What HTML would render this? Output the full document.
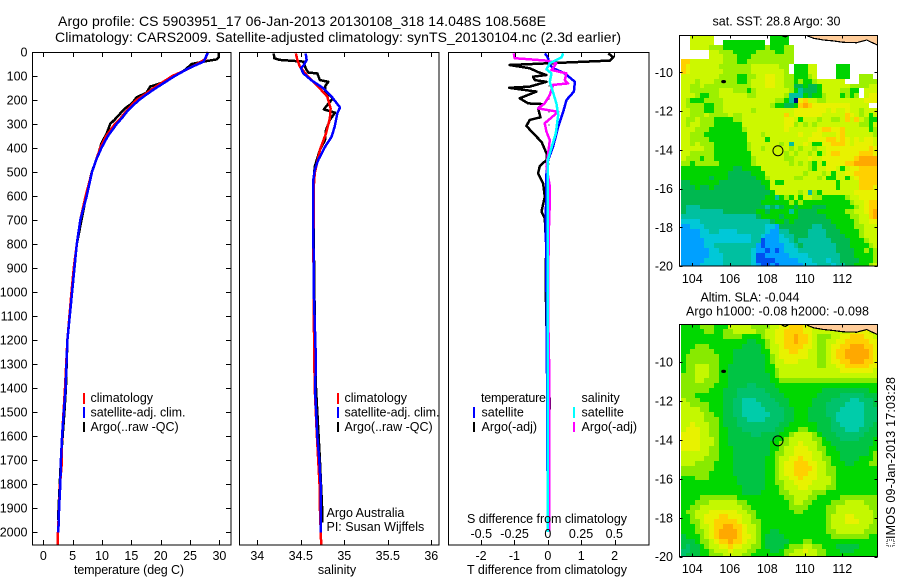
<!DOCTYPE html>
<html lang="en">
<head>
<meta charset="utf-8">
<title>Argo profile</title>
<style>
html,body{margin:0;padding:0;background:#fff;}
svg{display:block;}
text{font-family:"Liberation Sans",Arial,sans-serif;font-size:12.5px;fill:#000;}
.title{font-size:14px;}
</style>
</head>
<body>
<svg id="chart" xmlns="http://www.w3.org/2000/svg" width="900" height="580" viewBox="0 0 900 580">
<rect x="0" y="0" width="900" height="580" fill="#fff"/>
<defs>
<clipPath id="clip1"><rect x="680" y="36" width="197" height="230"/></clipPath>
<clipPath id="clip2"><rect x="680" y="325" width="197" height="232"/></clipPath>
</defs>
<text class="title" x="58" y="26" textLength="488" lengthAdjust="spacing">Argo profile: CS 5903951_17 06-Jan-2013 20130108_318 14.048S 108.568E</text>
<text class="title" x="55" y="42" textLength="566" lengthAdjust="spacing">Climatology: CARS2009. Satellite-adjusted climatology: synTS_20130104.nc (2.3d earlier)</text>

<g id="panelT"></g>
<g id="panelS"></g>
<g id="panelD"></g>
<g id="map1"></g>
<g id="map2"></g>

<text x="129" y="574" text-anchor="middle" textLength="110" lengthAdjust="spacing">temperature (deg C)</text>
<text x="337" y="574" text-anchor="middle">salinity</text>
<text x="547" y="574" text-anchor="middle" textLength="160" lengthAdjust="spacing">T difference from climatology</text>
<text x="547" y="523" text-anchor="middle" textLength="160" lengthAdjust="spacing">S difference from climatology</text>

<g>
<rect x="83" y="393" width="2" height="11" fill="#f00"/>
<text x="90.5" y="402">climatology</text>
<rect x="83" y="407" width="2" height="11" fill="#00f"/>
<text x="90.5" y="416.5" textLength="95" lengthAdjust="spacing">satellite-adj. clim.</text>
<rect x="83" y="422" width="2" height="10" fill="#000"/>
<text x="90.5" y="431">Argo(..raw -QC)</text>
</g>
<g>
<rect x="337" y="393" width="2" height="11" fill="#f00"/>
<text x="344.5" y="402">climatology</text>
<rect x="337" y="407" width="2" height="11" fill="#00f"/>
<text x="344.5" y="416.5" textLength="95" lengthAdjust="spacing">satellite-adj. clim.</text>
<rect x="337" y="422" width="2" height="10" fill="#000"/>
<text x="344.5" y="431">Argo(..raw -QC)</text>
<text x="326.5" y="517">Argo Australia</text>
<text x="326.5" y="531">PI: Susan Wijffels</text>
</g>
<g>
<text x="481" y="402" textLength="65" lengthAdjust="spacing">temperature</text>
<rect x="473" y="407" width="2" height="11" fill="#00f"/>
<text x="481.5" y="416.5">satellite</text>
<rect x="473" y="422" width="2" height="10" fill="#000"/>
<text x="481.5" y="431">Argo(-adj)</text>
<text x="581.5" y="402">salinity</text>
<rect x="573" y="407" width="2" height="11" fill="#0ff"/>
<text x="581.5" y="416.5">satellite</text>
<rect x="573" y="422" width="2" height="10" fill="#f0f"/>
<text x="581.5" y="431">Argo(-adj)</text>
</g>

<text x="776.5" y="25.5" text-anchor="middle" textLength="128" lengthAdjust="spacing">sat. SST: 28.8 Argo: 30</text>
<text x="750" y="301.5" text-anchor="middle" textLength="99" lengthAdjust="spacing">Altim. SLA: -0.044</text>
<text x="777.5" y="315.5" text-anchor="middle" textLength="183" lengthAdjust="spacing">Argo h1000: -0.08 h2000: -0.098</text>
<rect x="887" y="540" width="7" height="6" fill="none" stroke="#000" stroke-width="1" stroke-dasharray="1 1" shape-rendering="crispEdges"/>
<text transform="translate(895,539) rotate(-90)" textLength="162" lengthAdjust="spacing">IMOS 09-Jan-2013 17:03:28</text>

<script>
// ---- profile data ----
const depthTicks = [0,100,200,300,400,500,600,700,800,900,1000,1100,1200,1300,1400,1500,1600,1700,1800,1900,2000];
const tempTicks = [0,5,10,15,20,25,30];
const salTicks = [34,34.5,35,35.5,36];
const salTickLabels = ['34','34.5','35','35.5','36'];
const tDiffTicks = [-2,-1,0,1,2];
const sDiffTicks = [-0.5,-0.25,0,0.25,0.5];
const sDiffTickLabels = ['-0.5','-0.25','0','0.25','0.5'];

const tempClimDepth = [0,30,50,75,100,125,150,175,200,225,250,275,300,350,400,450,500,600,700,800,900,1000,1200,1400,1600,1730,1800,1900,2000,2054];
const tempClim = [28.0,27.6,26.2,24.3,22.0,20.4,18.8,17.4,15.9,14.9,14.0,13.2,12.2,10.7,9.7,9.0,8.3,7.2,6.3,5.7,5.2,4.8,4.1,3.7,3.2,3.1,2.85,2.7,2.5,2.45];
const tempSatDepth = [0,40,70,100,125,150,175,200,225,250,275,300,350,400,450,500,600,700,800,900,1000,1200,1400,1500,1600,1700,1800,1900,2003];
const tempSat = [28.1,27.3,24.6,22.4,20.8,19.2,17.7,16.3,15.2,14.2,13.4,12.5,11.0,9.9,9.0,8.3,7.4,6.3,5.7,5.3,4.9,4.1,3.8,3.5,3.2,3.0,2.9,2.7,2.55];
const tempArgoDepth = [3,22,31,40,50,75,103,124,131,144,169,189,214,235,281,300,339,381,422,506,600,800,1000,1200,1400,1500,1700,1900,1950];
const tempArgo = [29.9,29.9,29.5,27.3,25.3,24.1,22.2,20.7,19.9,18.2,17.6,15.9,15.1,13.9,12.2,11.4,10.8,9.9,9.4,8.2,7.3,5.7,4.9,4.1,3.85,3.6,3.0,2.6,2.5];

const salClimDepth = [6,33,61,96,144,186,235,276,339,408,506,561,800,1100,1400,1600,1700,1800,1900,2054];
const salClim = [34.444,34.46,34.49,34.567,34.70,34.805,34.843,34.835,34.79,34.72,34.66,34.65,34.645,34.65,34.66,34.685,34.70,34.715,34.72,34.735];
const salSatDepth = [6,33,54,68,89,117,151,186,231,256,311,353,394,450,492,533,693,1000,1300,1400,1600,1700,1800,1900,2003];
const salSat = [34.556,34.567,34.536,34.502,34.53,34.62,34.76,34.854,34.95,34.92,34.89,34.854,34.78,34.70,34.66,34.644,34.644,34.65,34.675,34.663,34.69,34.713,34.728,34.73,34.732];
const salArgoDepth = [6,26,33,40,68,86,89,117,124,142,165,193,221,239,253,283,325,367,408,478,533,800,1100,1400,1500,1700,1900,1960];
const salArgo = [34.19,34.195,34.253,34.53,34.556,34.586,34.69,34.72,34.816,34.78,34.78,34.87,34.805,34.766,34.893,34.835,34.79,34.778,34.72,34.66,34.65,34.65,34.66,34.675,34.69,34.72,34.745,34.745];

const diffTDepthArgo = [6,22,36,54,68,85,96,103,117,124,144,149,165,193,214,217,235,272,283,308,346,374,422,450,475,506,547,603,665,693,800,1000,1200,1300,1440,1490];
const diffTArgo = [1.81,1.96,1.86,-1.14,-0.54,-0.27,-0.04,-0.44,-0.39,-0.04,-0.54,-1.16,-0.34,-0.84,-0.59,-0.14,-0.29,-0.22,-0.54,-0.64,-0.39,-0.19,-0.04,-0.04,-0.24,-0.29,-0.14,-0.09,-0.19,-0.09,-0.05,-0.06,-0.03,0.0,0.05,0.05];
const diffTDepthSat = [6,22,54,70,89,124,165,200,249,311,394,450,506,700,1000,1400,2000];
const diffTSat = [-0.09,0.0,0.06,0.2,0.51,0.81,0.78,0.56,0.46,0.31,0.16,0.01,-0.04,-0.06,-0.04,-0.02,0.0];
const diffSDepthArgo = [6,26,36,47,75,89,117,131,137,179,214,235,249,297,332,367,478,561,631,700,900,1100,1300,1400,1500,1700,1900,2000];
const diffSArgo = [-0.256,-0.249,-0.01,0.065,0.028,0.14,0.128,0.153,0.04,0.015,-0.023,-0.073,0.078,-0.023,-0.01,0.015,-0.01,0.015,0.015,0.01,0.004,0.003,0.01,0.012,0.012,0.011,0.012,0.012];
const diffSDepthSat = [6,22,47,72,89,124,214,262,339,450,700,1200,2000];
const diffSSat = [0.116,0.103,0.015,-0.01,0.028,0.015,0.065,0.078,0.06,0.0,0.0,0.0,0.0];

// ---- map data: colour level per 0.25 degree cell (0 = no data) ----
const sstLevels = ['#ffffff','#000080','#0050f0','#00a0ff','#00c8d8','#00c0a0','#00b850','#00d400','#9cf000','#ccf800','#e8f200','#ffd000','#ffa800'];
const slaLevels = ['#ffffff','#000080','#0050f0','#00a0ff','#00ccaa','#00c26c','#00c444','#00d800','#88ea00','#c4f800','#e8f200','#ffd000','#ffa800'];
const lonTicks = [104,106,108,110,112];
const latTicks = [-10,-12,-14,-16,-18,-20];
const coastLon = [110.1,110.45,110.99,111.52,112.05,112.76,113.3,113.56,113.87];
const coastLat = [-8.1,-8.24,-8.33,-8.38,-8.45,-8.47,-8.33,-8.45,-8.59];
const islet1Lon = [108.76,108.95,109.12];
const islet1Lat = [-8.1,-8.17,-8.1];
const argoLon = 108.568;
const argoLat = -14.048;
const islandLon = 105.67;
const islandLat = -10.48;

const sstGrid = [
[0,0,9,9,9,9,9,0,0,0,0,0,0,0,0,0,0,0,0,7,7,7,7,0,0,0,0,0,0,0,0,0,0,0,0,0,0,0,0,0,0,0],
[0,0,9,9,9,9,9,0,0,7,7,7,7,7,7,7,7,7,0,7,7,7,7,0,0,0,0,0,0,0,0,0,0,0,0,0,0,0,0,0,0,0],
[0,0,9,9,9,9,8,8,8,7,7,7,7,7,7,7,7,7,8,7,7,7,8,8,0,0,0,0,0,0,0,0,0,0,0,0,0,0,0,0,0,0],
[0,0,0,0,0,0,9,9,8,8,8,7,7,7,7,7,8,8,8,8,7,7,8,8,0,0,0,0,0,0,0,0,0,0,0,0,0,0,0,0,0,0],
[0,0,0,0,0,0,9,9,9,8,8,8,7,7,7,8,8,8,8,8,8,8,8,8,0,0,0,0,0,0,0,0,0,0,0,0,0,0,0,0,0,0],
[11,11,9,9,9,9,9,9,9,8,8,8,7,7,8,8,8,8,8,8,8,8,8,8,0,0,0,0,0,0,0,0,0,0,0,0,0,0,0,0,0,0],
[11,10,9,9,9,9,9,9,8,8,8,8,8,8,8,9,9,9,9,9,9,8,8,0,7,7,7,9,9,0,0,0,0,7,7,7,0,0,0,0,0,0],
[11,10,9,9,9,9,9,9,9,8,8,8,8,8,8,9,9,9,9,9,9,9,8,0,7,7,7,9,9,0,0,0,0,7,7,7,0,0,0,0,0,0],
[9,9,9,9,9,9,9,9,8,8,8,8,7,7,8,8,9,9,10,10,9,9,8,8,7,7,7,8,9,0,0,0,0,7,7,7,0,0,8,8,8,0],
[9,9,9,8,9,9,9,8,8,8,8,8,7,7,8,9,9,9,10,10,9,9,8,8,7,8,7,7,8,9,9,9,9,9,9,0,0,0,8,8,8,8],
[9,9,8,8,9,8,8,8,8,8,8,8,8,8,8,9,9,9,10,10,9,9,8,8,6,6,7,6,6,7,9,9,9,9,9,9,8,8,8,8,9,9],
[9,9,8,8,8,8,8,8,9,9,9,8,8,8,7,8,9,9,9,9,9,9,9,8,7,5,6,6,6,7,9,9,9,9,8,8,7,7,0,9,9,9],
[9,9,9,8,7,7,8,8,9,9,9,9,9,9,8,8,9,9,9,9,9,9,8,5,5,5,7,6,7,7,8,9,9,9,7,8,7,8,0,9,10,10],
[9,8,7,7,7,8,8,8,8,9,9,9,9,9,9,9,9,9,9,9,8,8,7,5,1,10,11,9,9,8,8,9,9,9,9,9,9,9,9,10,10,10],
[9,8,8,8,8,7,7,8,8,9,9,9,9,9,9,9,9,9,9,8,7,7,6,6,7,11,12,11,10,10,10,10,10,10,10,10,9,9,9,9,0,0],
[9,9,8,8,8,7,7,8,8,9,9,9,9,9,9,8,9,9,9,9,9,9,9,9,10,10,10,10,10,10,10,9,10,9,9,10,9,9,8,9,9,9],
[9,9,8,8,8,9,8,8,8,8,9,8,8,9,9,9,9,9,9,9,9,9,11,9,10,10,10,10,10,10,9,9,9,9,9,11,10,9,8,9,7,9],
[9,8,8,9,8,8,8,7,7,7,7,8,8,9,9,9,9,9,9,9,9,9,10,10,9,7,9,9,9,8,9,9,8,8,9,11,9,11,9,8,7,7],
[9,8,9,9,8,8,8,7,7,7,7,7,7,9,9,9,9,9,9,9,9,9,10,10,8,9,8,9,8,9,9,9,9,9,9,9,9,9,8,8,7,9],
[9,9,9,8,8,8,7,7,7,7,7,7,7,8,9,9,9,9,9,9,9,9,10,9,9,9,9,9,9,10,11,11,10,10,11,9,9,9,9,9,7,8],
[9,9,8,8,8,7,7,7,7,7,7,7,7,7,9,9,9,8,9,9,9,9,9,9,9,10,9,9,10,10,9,9,9,10,11,9,9,9,9,9,9,8],
[9,9,8,8,8,8,7,7,7,7,7,7,7,7,9,9,9,9,7,9,9,9,9,9,9,9,9,10,10,10,10,11,11,10,11,10,9,10,9,10,10,9],
[9,9,8,9,8,8,8,7,7,7,7,7,7,7,8,9,9,9,9,9,9,8,9,5,9,9,10,9,7,7,10,10,11,11,11,10,9,10,10,10,10,9],
[9,9,9,9,9,8,8,7,7,7,7,7,7,7,8,9,9,8,9,9,9,9,9,8,9,8,9,9,8,9,9,10,10,10,10,10,10,10,10,10,11,10],
[9,9,8,8,8,8,8,7,7,7,7,7,7,7,7,9,9,9,9,9,9,9,8,9,8,9,9,8,9,7,9,10,11,11,10,10,10,10,11,11,11,10],
[9,8,8,8,7,8,8,7,7,7,7,7,7,7,7,8,9,9,9,9,9,9,8,8,9,9,9,10,9,9,10,10,10,10,10,10,10,11,12,12,12,12],
[8,8,7,8,8,8,8,8,7,7,7,7,7,7,7,8,9,9,9,9,9,9,9,8,9,8,9,8,7,9,7,10,10,10,10,11,11,12,12,12,12,12],
[7,7,7,7,7,7,7,7,7,7,7,6,6,7,7,7,7,9,9,9,9,9,9,9,9,9,9,8,7,9,9,10,10,9,7,9,10,10,11,11,11,11],
[7,7,7,7,7,7,7,7,7,7,6,6,6,6,6,7,7,7,9,9,9,9,9,9,9,9,8,9,9,9,8,9,7,9,9,10,10,11,11,11,11,11],
[7,7,7,7,7,7,6,7,7,7,6,6,6,6,6,6,7,7,8,9,9,9,9,9,8,8,9,9,9,8,9,7,7,9,9,7,9,10,11,11,11,11],
[6,6,7,7,7,7,7,7,6,6,6,6,6,6,6,6,6,7,7,9,7,7,9,9,9,9,9,9,9,9,9,9,9,7,9,9,9,9,11,11,11,11],
[6,6,6,7,6,6,7,6,6,6,6,6,6,6,6,6,6,6,7,9,9,9,9,9,9,9,9,9,9,9,9,9,9,7,9,9,9,9,11,11,11,10],
[6,6,6,6,6,6,6,6,6,6,6,6,6,6,6,6,6,6,6,7,9,9,9,9,9,8,9,5,8,7,9,9,9,9,9,9,9,10,10,10,10,10],
[6,6,6,6,6,6,6,6,6,6,6,6,6,6,6,6,6,6,7,7,5,7,8,7,9,7,9,9,8,8,7,7,7,7,7,8,9,9,10,10,10,10],
[6,6,6,6,6,6,6,6,6,6,6,6,6,6,6,6,6,7,7,7,7,7,7,8,7,8,7,7,7,7,7,7,7,7,7,7,8,9,9,10,11,11],
[6,5,5,5,6,6,6,6,6,6,6,6,6,6,6,6,6,6,5,6,5,6,7,7,6,7,7,7,6,6,6,7,7,7,7,7,7,8,9,10,11,11],
[6,5,5,5,5,5,5,5,5,6,6,6,6,6,6,6,7,7,6,7,7,7,7,5,7,6,6,6,6,7,7,7,7,7,7,8,8,9,9,10,11,12],
[5,5,5,5,5,5,5,5,5,5,5,5,5,5,5,5,6,7,7,7,7,6,7,7,7,6,6,6,6,6,6,7,7,7,7,7,8,8,9,9,11,12],
[4,4,4,4,5,5,5,5,5,5,5,5,5,5,5,5,5,5,5,6,7,7,6,7,6,6,6,6,6,6,6,6,7,7,7,7,7,8,9,9,10,10],
[3,3,4,4,4,5,5,5,5,5,5,5,5,5,5,5,5,5,4,4,3,6,6,6,6,6,6,6,5,5,6,6,6,7,7,7,7,8,8,9,9,9],
[3,3,3,3,4,4,5,5,4,4,4,4,5,5,5,5,5,5,4,3,3,5,5,6,6,6,6,5,5,5,5,6,6,6,7,7,7,7,8,9,9,9],
[3,3,3,3,4,4,4,4,4,4,4,4,4,4,4,5,5,4,3,3,3,4,5,5,6,6,6,5,5,5,5,6,6,6,6,7,7,7,8,9,9,9],
[3,3,3,3,3,4,4,4,4,4,4,4,4,4,4,5,5,2,3,3,3,4,4,5,6,5,5,5,5,5,5,5,6,6,6,6,7,7,7,8,9,9],
[3,3,3,3,3,4,4,5,5,5,5,5,5,5,5,5,3,2,3,3,3,3,4,4,5,6,5,5,5,5,5,5,5,6,6,6,7,7,7,7,8,9],
[3,3,3,3,3,3,4,4,5,5,5,5,5,5,5,4,3,3,2,3,2,3,4,4,4,5,5,5,5,5,5,5,5,6,6,6,6,7,7,8,7,8],
[3,3,3,3,3,3,4,4,4,5,5,5,5,5,5,4,2,2,3,3,3,3,3,4,4,4,4,5,5,5,5,5,5,5,6,6,6,7,7,7,7,8],
[3,3,3,3,3,4,4,4,4,5,5,5,5,5,5,4,2,2,2,2,3,3,3,3,3,4,4,4,5,5,5,4,5,5,6,6,6,6,7,7,7,8],
[3,3,3,3,4,4,4,4,4,5,5,5,5,5,5,4,3,2,2,3,2,3,3,3,3,3,4,4,4,5,5,5,4,5,5,6,6,7,7,7,8,9]
];

const slaGrid = [
[7,7,7,7,8,8,8,7,7,7,9,9,9,9,9,8,8,8,8,9,9,10,10,11,11,11,10,10,9,9,9,9,9,9,9,9,9,9,9,9,9,9],
[7,7,7,7,7,8,8,7,7,8,8,9,9,9,9,9,8,8,9,9,10,10,11,11,11,11,10,10,9,9,9,9,9,9,9,9,10,10,10,10,9,9],
[7,7,7,7,7,7,7,7,7,8,8,8,8,7,7,7,7,8,9,9,10,10,11,11,12,11,11,10,9,8,8,8,9,9,10,10,11,11,11,10,10,9],
[7,7,7,7,7,7,7,7,7,7,7,7,7,7,6,6,7,7,8,9,10,10,11,11,12,11,11,10,9,8,8,9,9,10,10,11,11,11,11,11,10,10],
[7,7,7,8,8,8,7,7,7,7,7,7,7,6,6,6,6,7,8,9,9,10,11,11,11,11,10,10,9,8,8,9,10,10,11,11,12,12,12,11,11,10],
[7,7,8,8,8,8,8,7,7,7,7,6,6,6,6,6,6,7,7,9,9,10,10,11,11,10,10,9,9,8,8,9,10,11,11,12,12,12,12,12,11,10],
[7,8,8,8,8,8,8,8,7,7,7,6,6,6,6,6,6,6,7,8,9,10,10,10,10,10,10,9,9,8,8,9,10,11,11,12,12,12,12,12,11,10],
[7,8,8,8,8,8,8,8,7,7,7,6,6,6,6,6,6,6,7,8,9,9,10,10,10,9,9,9,9,8,8,9,10,10,11,11,12,12,12,11,11,10],
[7,8,8,9,9,9,8,8,7,7,6,6,6,6,6,6,6,6,7,7,9,9,9,9,9,9,9,9,9,8,8,9,9,10,10,11,11,11,11,11,10,10],
[7,8,8,9,9,9,8,8,7,7,6,6,6,6,6,6,6,6,7,7,8,9,9,9,9,9,9,9,9,9,9,9,9,9,10,10,10,10,10,10,10,9],
[8,8,8,9,9,9,8,8,7,7,6,6,6,6,6,6,6,6,6,7,8,9,9,9,9,9,9,9,9,9,9,9,9,9,9,9,9,9,9,9,9,9],
[8,8,8,9,9,8,8,8,7,7,6,6,6,6,6,6,6,6,6,7,7,8,8,8,8,8,8,8,8,8,8,8,8,8,8,8,8,8,8,8,8,8],
[8,8,8,8,8,8,8,7,7,7,6,6,6,6,5,5,6,6,6,6,7,7,7,7,7,7,7,7,7,7,7,7,7,7,7,7,7,7,7,7,7,7],
[8,8,8,8,8,8,7,7,7,6,6,6,5,5,5,5,5,5,6,6,6,7,7,7,7,7,7,7,7,7,6,6,6,6,6,6,6,6,6,6,7,7],
[8,8,8,7,7,7,7,7,7,6,6,6,5,5,5,5,5,5,5,6,6,6,7,7,7,7,7,7,7,6,6,6,6,6,5,5,5,5,5,6,6,6],
[9,8,8,8,7,7,7,7,7,6,6,5,5,4,4,4,5,5,5,5,6,6,6,7,7,7,7,7,6,6,6,6,5,5,5,5,4,4,5,5,5,6],
[9,9,8,8,8,8,7,7,7,6,6,5,5,4,4,4,4,5,5,5,5,6,6,7,7,7,7,7,6,6,6,5,5,5,5,4,4,4,4,5,5,6],
[9,9,9,9,8,8,7,7,7,6,6,5,5,4,4,4,4,4,5,5,5,5,6,6,7,7,7,6,6,6,6,5,5,5,4,4,4,4,4,5,5,5],
[9,9,9,9,9,8,8,7,7,6,6,5,5,4,4,4,4,4,4,5,5,5,6,6,7,7,7,6,6,6,6,5,5,4,4,4,4,4,4,5,5,5],
[9,9,9,9,9,8,8,8,7,6,6,6,5,5,4,4,4,4,5,5,5,5,6,6,7,7,7,6,6,6,6,6,5,4,4,4,4,4,4,5,5,5],
[9,9,10,9,9,9,8,8,7,6,6,6,5,5,5,5,5,5,5,5,5,6,6,7,7,7,7,7,7,6,6,6,5,5,4,4,4,4,4,5,5,6],
[9,10,10,10,9,9,8,8,7,7,6,6,6,5,5,5,5,5,5,5,6,6,7,7,7,8,8,7,7,6,6,6,5,5,5,4,4,4,5,5,6,6],
[10,10,10,10,9,9,8,8,7,7,6,6,6,6,6,5,5,6,6,6,6,7,7,8,9,9,9,9,8,7,6,6,6,5,5,5,5,5,5,6,6,6],
[10,10,10,10,9,9,9,8,7,7,6,6,6,6,6,6,6,6,6,6,7,7,8,9,9,9,9,9,8,8,7,6,6,6,5,5,5,5,6,6,6,7],
[10,10,10,10,9,9,9,8,7,7,6,6,6,6,6,6,6,6,6,7,7,8,8,9,9,10,9,9,9,8,7,7,6,6,6,6,6,6,6,6,6,7],
[10,10,10,10,9,9,8,8,7,7,7,6,6,6,6,6,6,6,6,7,7,8,9,9,10,10,10,9,9,8,8,7,7,6,6,6,6,6,6,6,7,7],
[9,9,9,9,9,9,8,8,7,7,7,6,6,6,6,6,6,6,6,7,8,8,9,9,10,10,10,10,9,9,8,7,7,7,6,6,6,6,6,6,7,8],
[9,9,9,9,9,8,8,8,7,7,7,6,6,6,6,6,6,6,7,7,8,9,9,10,10,11,10,10,9,9,8,8,7,7,6,6,6,6,7,7,7,8],
[9,9,9,8,8,8,8,7,7,7,7,6,6,6,6,6,6,6,7,7,8,9,10,10,11,11,11,10,10,9,9,8,7,7,7,6,6,7,7,7,8,8],
[8,8,8,8,8,8,8,7,7,7,7,6,6,6,6,6,6,6,7,7,8,9,10,10,11,11,11,11,10,9,9,8,8,7,7,7,7,7,7,7,7,7],
[8,8,8,8,8,8,7,7,7,7,7,6,6,6,6,6,6,6,7,7,8,9,10,10,11,11,11,10,10,9,9,8,8,7,7,7,7,7,7,7,7,7],
[7,7,7,8,8,8,7,7,7,7,7,7,6,6,6,6,6,6,7,7,8,9,9,10,10,11,10,10,10,9,9,9,8,7,7,7,7,7,7,7,7,7],
[7,7,7,7,7,7,7,7,7,7,7,7,6,6,6,6,6,6,7,7,8,8,9,9,10,10,10,10,9,9,9,9,8,7,7,7,7,7,7,7,7,7],
[7,7,7,7,7,7,7,7,7,7,7,7,7,6,6,6,6,6,7,7,7,8,9,9,9,10,10,9,9,9,9,8,8,7,7,7,7,7,7,7,7,7],
[7,7,7,7,7,7,7,7,7,7,7,7,7,6,6,6,6,7,7,7,7,8,8,9,9,9,9,9,8,8,8,7,7,7,7,7,7,7,7,7,7,7],
[7,7,7,7,8,8,8,8,8,8,8,8,7,7,7,7,7,7,7,7,7,7,8,8,9,9,9,8,8,7,7,7,7,7,8,8,8,8,8,8,8,8],
[7,7,7,8,8,8,9,9,9,9,9,9,8,8,7,7,7,7,7,7,7,7,7,8,9,9,8,8,7,7,7,7,8,8,8,9,9,9,9,8,8,8],
[7,7,8,8,9,9,9,9,9,9,9,9,9,8,8,7,7,7,7,7,7,7,7,8,8,8,8,7,7,7,7,8,8,9,9,9,9,9,9,9,8,8],
[7,8,8,9,9,9,10,10,10,10,10,10,9,9,8,8,7,7,7,7,7,7,7,7,8,8,7,7,7,7,7,8,8,9,9,9,9,9,9,9,9,8],
[7,7,8,9,9,10,10,10,11,11,10,10,10,9,9,8,7,7,7,7,7,7,7,7,7,7,7,7,7,7,7,8,9,9,9,10,10,9,9,9,9,8],
[7,7,8,8,9,10,10,11,11,11,11,11,10,9,9,8,8,7,7,7,7,7,7,7,7,7,7,7,7,7,7,8,9,9,9,10,10,10,9,9,9,8],
[7,7,7,8,9,9,10,11,11,12,12,11,11,10,9,9,8,7,7,7,7,7,7,7,7,7,7,7,7,7,7,8,9,9,9,9,9,9,9,9,8,8],
[7,7,7,8,8,9,10,11,12,12,12,12,11,10,9,9,8,7,7,6,6,7,7,7,7,7,7,7,7,7,7,8,8,9,9,9,9,9,9,8,8,8],
[6,7,7,7,8,9,10,11,12,12,12,12,11,10,10,9,8,7,6,6,6,6,7,7,7,7,7,7,7,7,7,7,8,8,8,8,8,8,8,8,7,7],
[6,6,6,7,8,8,9,10,11,11,12,11,11,10,9,9,8,7,6,6,6,6,6,7,7,7,8,8,7,7,7,7,7,7,7,7,7,7,7,7,7,7],
[6,5,6,6,7,8,9,9,10,10,11,10,10,9,9,8,8,7,6,6,6,6,7,8,8,8,9,9,8,8,7,7,7,6,6,6,6,6,7,7,7,7],
[5,5,6,6,7,7,8,9,9,9,10,9,9,9,8,8,7,7,7,6,6,7,8,8,9,9,10,9,9,8,8,7,7,7,6,6,6,7,7,7,7,7],
[5,6,6,6,7,7,8,8,8,9,9,9,9,8,8,7,7,7,7,7,7,7,8,9,9,9,9,9,9,8,8,7,7,7,7,7,7,7,7,7,7,7]
];

// ---- axis functions ----
const NS = 'http://www.w3.org/2000/svg';
const yDepth = d => 52 + 0.24 * d;
const xTemp = t => 43.3 + 5.87 * t;
const xSal = s => 257.3 + 87 * (s - 34);
const xTDiff = t => 547.8 + 33.4 * t;
const xSDiff = s => 547.8 + 133 * s;
const xLon = lon => 692.3 + 18.75 * (lon - 104);
const yLat1 = lat => 72.3 + 19.37 * (-10 - lat);
const yLat2 = lat => 362 + 19.47 * (-10 - lat);

function make(parent, tag, attrs) {
  const el = document.createElementNS(NS, tag);
  for (const k in attrs) el.setAttribute(k, attrs[k]);
  parent.appendChild(el);
  return el;
}
function tick(parent, x1, y1, x2, y2) {
  const el = make(parent, 'line', {x1: x1, y1: y1, x2: x2, y2: y2, stroke: '#000', 'stroke-width': 1, 'shape-rendering': 'crispEdges'});
  
  
}
function label(parent, x, y, anchor, str) {
  const el = make(parent, 'text', {x: x, y: y, 'text-anchor': anchor});
  el.textContent = str;
  
  
}
function frame(parent, x, y, w, h) {
  const el = make(parent, 'rect', {x: x, y: y, width: w, height: h, fill: 'none', stroke: '#000', 'stroke-width': 1, 'shape-rendering': 'crispEdges'});
  
  
}
function series(parent, name, values, depths, xFn, color) {
  const pts = values.map((v, i) => xFn(v).toFixed(1) + ',' + yDepth(depths[i]).toFixed(1)).join(' ');
  const el = make(parent, 'polyline', {points: pts, fill: 'none', stroke: color, 'stroke-width': 2.5, 'shape-rendering': 'crispEdges', 'stroke-linejoin': 'round'});
  
  
}
function xAxis(parent, ticks, labels, xFn, baseline) {
  ticks.forEach((t, i) => {
    const x = Math.round(xFn(t)) + 0.5;
    tick(parent, x, 545, x, 540);
    tick(parent, x, 52, x, 57);
    label(parent, xFn(t), baseline, 'middle', labels[i]);
  });
}

// ---- temperature panel ----
const pT = document.getElementById('panelT');
series(pT, 'argo-temperature-line', tempArgo, tempArgoDepth, xTemp, '#000');
series(pT, 'climatology-temperature-line', tempClim, tempClimDepth, xTemp, '#f00');
series(pT, 'satellite-temperature-line', tempSat, tempSatDepth, xTemp, '#00f');
frame(pT, 32.5, 52.5, 198.5, 492.5);
depthTicks.forEach(d => {
  const y = Math.round(yDepth(d)) + 0.5;
  tick(pT, 32.5, y, 37.5, y);
  tick(pT, 226, y, 231, y);
  label(pT, 27.5, yDepth(d) + 4.5, 'end', String(d));
});
xAxis(pT, tempTicks, tempTicks.map(String), xTemp, 560);

// ---- salinity panel ----
const pS = document.getElementById('panelS');
series(pS, 'argo-salinity-line', salArgo, salArgoDepth, xSal, '#000');
series(pS, 'climatology-salinity-line', salClim, salClimDepth, xSal, '#f00');
series(pS, 'satellite-salinity-line', salSat, salSatDepth, xSal, '#00f');
frame(pS, 239.5, 52.5, 199.5, 492.5);
xAxis(pS, salTicks, salTickLabels, xSal, 560);

// ---- difference panel ----
const pD = document.getElementById('panelD');
const zero = make(pD, 'line', {x1: xTDiff(0) + 1, y1: yDepth(140), x2: xTDiff(0) + 1, y2: yDepth(2000), stroke: '#000', 'stroke-width': 1, 'stroke-dasharray': '1 12', 'shape-rendering': 'crispEdges'});


series(pD, 'argo-t-difference-line', diffTArgo, diffTDepthArgo, xTDiff, '#000');
series(pD, 'satellite-t-difference-line', diffTSat, diffTDepthSat, xTDiff, '#00f');
series(pD, 'argo-s-difference-line', diffSArgo, diffSDepthArgo, xSDiff, '#f0f');
series(pD, 'satellite-s-difference-line', diffSSat, diffSDepthSat, xSDiff, '#0ff');
frame(pD, 448.5, 52.5, 200.5, 492.5);
tDiffTicks.forEach(t => {
  const x = Math.round(xTDiff(t)) + 0.5;
  tick(pD, x, 545, x, 540);
  label(pD, xTDiff(t), 560, 'middle', String(t));
});
sDiffTicks.forEach((s, i) => {
  const x = Math.round(xSDiff(s)) + 0.5;
  tick(pD, x, 52, x, 57);
  label(pD, xSDiff(s), 538, 'middle', sDiffTickLabels[i]);
});

// ---- maps ----
function drawMap(id, grid, levels, yFn, clipId, frameTop, frameH, tickBaseline) {
  const g = document.getElementById(id);
  const cells = make(g, 'g', {'clip-path': 'url(#' + clipId + ')'});
  
  
  const topLat = -8.08;
  grid.forEach((row, j) => {
    row.forEach((v, i) => {
      if (!v) return;
      const lon = 103.4 + i * 0.25;
      const lat = topLat - j * 0.25;
      const x0 = Math.round(xLon(lon));
      const x1 = Math.round(xLon(lon + 0.25));
      const y0 = Math.round(yFn(lat));
      const y1 = Math.round(yFn(lat - 0.25));
      const cell = make(cells, 'rect', {x: x0, y: y0, width: x1 - x0, height: y1 - y0, fill: levels[v], 'shape-rendering': 'crispEdges'});
      
      
    });
  });
  const landPts = coastLon.map((lon, i) => xLon(lon).toFixed(1) + ',' + yFn(coastLat[i]).toFixed(1));
  const land = make(cells, 'polygon', {points: landPts.join(' ') + ' ' + xLon(113.9).toFixed(1) + ',' + yFn(-8.05).toFixed(1) + ' ' + xLon(110.1).toFixed(1) + ',' + yFn(-8.05).toFixed(1), fill: '#ffcc99'});
  
  
  const coast = make(cells, 'polyline', {points: landPts.join(' '), fill: 'none', stroke: '#000', 'stroke-width': 1.2, 'shape-rendering': 'crispEdges'});
  
  
  const isletPts = islet1Lon.map((lon, i) => xLon(lon).toFixed(1) + ',' + yFn(islet1Lat[i]).toFixed(1));
  const islet = make(cells, 'polyline', {points: isletPts.join(' '), fill: 'none', stroke: '#000', 'stroke-width': 1.2, 'shape-rendering': 'crispEdges'});
  
  
  const isle = make(g, 'ellipse', {cx: xLon(islandLon), cy: yFn(islandLat), rx: 2.4, ry: 1.6, fill: '#000'});
  
  
  const marker = make(g, 'circle', {cx: xLon(argoLon), cy: yFn(argoLat), r: 5, fill: 'none', stroke: '#000', 'stroke-width': 1});
  
  
  frame(g, 679.5, frameTop, 198, frameH);
  lonTicks.forEach(lon => {
    const x = Math.round(xLon(lon)) + 0.5;
    tick(g, x, frameTop + frameH, x, frameTop + frameH - 3);
    tick(g, x, frameTop, x, frameTop + 3);
    label(g, xLon(lon), tickBaseline, 'middle', String(lon));
  });
  latTicks.forEach(lat => {
    const y = Math.round(yFn(lat)) + 0.5;
    tick(g, 679.5, y, 682.5, y);
    tick(g, 874.5, y, 877.5, y);
    label(g, 673, yFn(lat) + 4.5, 'end', String(lat));
  });
}
drawMap('map1', sstGrid, sstLevels, yLat1, 'clip1', 35.5, 230.5, 283);
drawMap('map2', slaGrid, slaLevels, yLat2, 'clip2', 324.5, 232, 573);
</script>
</svg>
</body>
</html>
